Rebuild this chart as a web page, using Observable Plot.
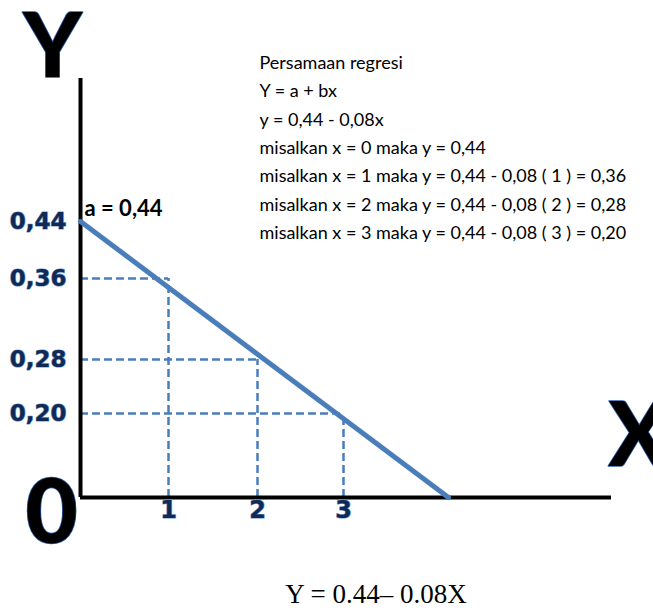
<!DOCTYPE html>
<html>
<head>
<meta charset="utf-8">
<script src="https://cdn.jsdelivr.net/npm/d3@7"></script>
<script src="https://cdn.jsdelivr.net/npm/@observablehq/plot@0.6"></script>
<style>
  html, body { margin: 0; padding: 0; background: #fff; }
</style>
</head>
<body>
<div id="chart"></div>
<script>
// regression line y = a + b x drawn from x = 0 to where it meets the x axis
const lineX = [0, 5.5];
const lineY = [0.44, 0];
// guide points
const guideX = [1, 2, 3];
const guideY = [0.36, 0.28, 0.20];
// tick labels
const yTicks = [0.44, 0.36, 0.28, 0.20];
const xTicks = [1, 2, 3];
// hand-drawn axis breakpoints (piecewise scale domain)
const xBreaks = [0, 1, 2, 3, 5.5, 7.5];
const yBreaks = [0, 0.20, 0.28, 0.36, 0.44, 0.6];
const notes = [
  "Persamaan regresi",
  "Y = a + bx",
  "y = 0,44 - 0,08x",
  "misalkan x = 0 maka y = 0,44",
  "misalkan x = 1 maka y = 0,44 - 0,08 ( 1 ) = 0,36",
  "misalkan x = 2 maka y = 0,44 - 0,08 ( 2 ) = 0,28",
  "misalkan x = 3 maka y = 0,44 - 0,08 ( 3 ) = 0,20"
];
const caption = "Y = 0.44\u2013 0.08X";

const blue = "#4a7ebb";
const navy = "#0f2a55";
const comma = d => d.toFixed(2).replace(".", ",");

const lineData = lineX.map((x, i) => ({x, y: lineY[i]}));
const guides = guideX.map((x, i) => ({x, y: guideY[i]}));

const chart = Plot.plot({
  width: 653,
  height: 613,
  marginLeft: 80,
  marginRight: 42,
  marginTop: 78,
  marginBottom: 116,
  style: {fontFamily: "Lato, sans-serif", background: "#fff", overflow: "hidden"},
  x: {type: "linear", domain: xBreaks, range: [80, 168, 257, 343, 448, 611], nice: false},
  y: {type: "linear", domain: yBreaks, range: [497, 413, 359, 278, 221, 78], nice: false},
  marks: [
    // dashed guides
    Plot.ruleY(guides, {y: "y", x1: 0, x2: "x", stroke: blue, strokeWidth: 2.5, strokeDasharray: "8,4"}),
    Plot.ruleX(guides, {x: "x", y1: 0, y2: "y", stroke: blue, strokeWidth: 2.5, strokeDasharray: "8,4"}),
    // axes
    Plot.ruleX([0], {y1: 0, y2: yBreaks[yBreaks.length - 1], stroke: "#000", strokeWidth: 4}),
    Plot.ruleY([0], {x1: 0, x2: xBreaks[xBreaks.length - 1], stroke: "#000", strokeWidth: 4}),
    // regression line
    Plot.line(lineData, {x: "x", y: "y", stroke: blue, strokeWidth: 5}),
    Plot.axisY({ticks: yTicks, tickFormat: comma, tickSize: 0, tickPadding: 14, label: null,
      fontSize: 23, fontWeight: "bold", fontFamily: "DejaVu Sans, sans-serif", color: navy,
      textStroke: "#6f95cc", textStrokeWidth: 1.2}),
    Plot.axisX({ticks: xTicks, tickFormat: d => String(d), tickSize: 0, tickPadding: 3, label: null,
      fontSize: 24, fontWeight: "bold", fontFamily: "DejaVu Sans, sans-serif", color: navy,
      textStroke: "#6f95cc", textStrokeWidth: 1.2}),
    // big axis letters
    Plot.text(["Y"], {x: 0, y: yBreaks[yBreaks.length - 1], text: d => d, dx: -28, dy: -30,
      fontSize: 89, fontWeight: 900, fill: "#000", stroke: "#2a5aa8", strokeWidth: 1.5, textAnchor: "middle", lineAnchor: "middle"}),
    Plot.text(["X"], {x: xBreaks[xBreaks.length - 1], y: 0, text: d => d, dx: -3, dy: -60,
      fontSize: 89, fontWeight: 900, fill: "#000", stroke: "#2a5aa8", strokeWidth: 1.5, textAnchor: "start", lineAnchor: "middle"}),
    Plot.text(["0"], {x: 0, y: 0, text: d => d, dx: -29, dy: 17,
      fontSize: 90, fontWeight: 900, fill: "#000", stroke: "#2a5aa8", strokeWidth: 1.5, textAnchor: "middle", lineAnchor: "middle"}),
    // intercept label
    Plot.text(["a = " + comma(lineY[0])], {x: 0, y: lineY[0], text: d => d, dx: 4, dy: -13,
      fontSize: 22, fontWeight: "bold", fill: "#000", textAnchor: "start", lineAnchor: "middle"}),
    // notes block
    Plot.text([notes.join("\n")], {frameAnchor: "top-left", text: d => d, dx: 179, dy: -30,
      fontSize: 18, lineHeight: 1.58, fill: "#000", textAnchor: "start", lineAnchor: "top"}),
    // caption
    Plot.text([caption], {frameAnchor: "bottom", text: d => d, dx: 30, dy: 97,
      fontSize: 27, fontFamily: "Liberation Serif, serif", fill: "#000", textAnchor: "middle", lineAnchor: "middle"})
  ]
});
document.getElementById("chart").append(chart);
</script>
</body>
</html>
